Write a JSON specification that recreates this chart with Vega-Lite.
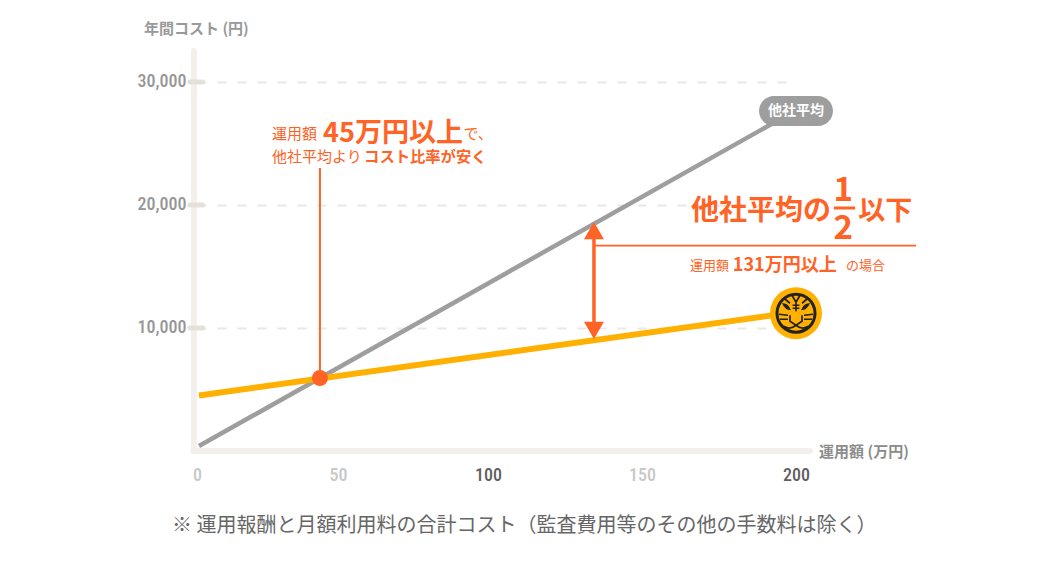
{
"$schema":"https://vega.github.io/schema/vega-lite/v6.json",
"width":600,"height":400,
"autosize":{"type":"none"},
"padding":{"left":197,"top":51,"right":259,"bottom":121},
"background":"white",
"config":{"view":{"stroke":null},"font":"Noto Sans CJK JP"},
"datasets":{
"lines":[
{"s":"他社平均","x":0.7,"y":406},{"s":"他社平均","x":193.2,"y":26748},
{"s":"当社","x":0.7,"y":4512},{"s":"当社","x":200,"y":11301}],
"boldLeft":[
{"t":"年間コスト (円)","x":-18.8,"y":34340,"size":15,"c":"#999999"},
{"t":"運用額 (万円)","x":207.5,"y":-100,"size":15,"c":"#8c8c8c"},
{"t":"45万円以上","x":44.7,"y":25800,"size":27,"c":"#ff6325"},
{"t":"コスト比率が安く","x":58.7,"y":23900,"size":15.3,"c":"#ff6325"},
{"t":"他社平均の","x":165.9,"y":19430,"size":28,"c":"#ff6325"},
{"t":"以下","x":220.2,"y":19430,"size":27,"c":"#ff6325"},
{"t":"131万円以上","x":179.5,"y":15040,"size":18,"c":"#ff6325"}
],
"boldCenter":[
{"t":"他社平均","x":200,"y":27642,"size":14,"c":"#ffffff"},
{"t":"1","x":215.3,"y":21150,"size":33,"c":"#ff6325"},
{"t":"2","x":215.3,"y":18050,"size":33,"c":"#ff6325"}
],
"normalLeft":[
{"t":"※  運用報酬と月額利用料の合計コスト（監査費用等のその他の手数料は除く）","x":-8.9,"y":-6130,"size":20,"c":"#666666"},
{"t":"運用額","x":26.6,"y":25800,"size":15,"c":"#ff6325"},
{"t":"で、","x":91.8,"y":25800,"size":15,"c":"#ff6325"},
{"t":"他社平均より","x":26.6,"y":23900,"size":15,"c":"#ff6325"},
{"t":"運用額","x":165.6,"y":15040,"size":13,"c":"#ff6325"},
{"t":"の場合","x":216.2,"y":15040,"size":13,"c":"#ff6325"}
],
"frame":[
{"x":-1.1,"x2":-1.1,"y":0,"y2":32520},
{"x":-1.4,"x2":204.5,"y":0,"y2":0}
],
"ticks":[{"x":-2.5,"x2":2,"y":10000},{"x":-2.5,"x2":2,"y":20000},{"x":-2.5,"x2":2,"y":30000}]
},
"layer":[
{"data":{"values":[{"x":0,"y":0}]},
"mark":{"type":"point","opacity":0},
"encoding":{
"x":{"field":"x","type":"quantitative","scale":{"domain":[0,50,100,150,200],"range":[0,141,291,445,599]},
"axis":{"title":null,"values":[0,50,100,150,200],"grid":false,"domain":false,"ticks":false,"labelPadding":15,"labelFont":"Roboto Condensed, DejaVu Sans Condensed, Roboto","labelFontWeight":500,"labelFontSize":18,"labelFlush":false,
"labelColor":{"condition":{"test":"datum.value==100||datum.value==200","value":"#5f5f5f"},"value":"#c8c8c8"}}},
"y":{"field":"y","type":"quantitative","scale":{"domain":[0,32520],"nice":false},
"axis":{"title":null,"values":[10000,20000,30000],"labelExpr":"datum.value==10000?'10,000':datum.value==20000?'20,000':'30,000'","grid":true,"gridColor":"#ece9e3","gridWidth":2,"gridDash":[9,11],"domain":false,"ticks":false,"labelPadding":11,"labelFont":"Roboto Condensed, DejaVu Sans Condensed, Roboto","labelFontWeight":500,"labelFontSize":18,"labelColor":"#969696"}}
}},
{"data":{"name":"frame"},"mark":{"type":"rule","color":"#f3f0eb","strokeWidth":6,"strokeCap":"round"},
"encoding":{"x":{"field":"x","type":"quantitative"},"x2":{"field":"x2"},"y":{"field":"y","type":"quantitative"},"y2":{"field":"y2"}}},
{"data":{"name":"ticks"},"mark":{"type":"rule","color":"#e4e1da","strokeWidth":5,"strokeCap":"round"},
"encoding":{"x":{"field":"x","type":"quantitative"},"x2":{"field":"x2"},"y":{"field":"y","type":"quantitative"}}},
{"data":{"name":"lines"},"transform":[{"filter":"datum.s=='他社平均'"}],"mark":{"type":"line","color":"#9e9e9e","strokeWidth":4.5},
"encoding":{"x":{"field":"x","type":"quantitative"},"y":{"field":"y","type":"quantitative"}}},
{"data":{"name":"lines"},"transform":[{"filter":"datum.s=='当社'"}],"mark":{"type":"line","color":"#ffb000","strokeWidth":6},
"encoding":{"x":{"field":"x","type":"quantitative"},"y":{"field":"y","type":"quantitative"}}},
{"data":{"values":[{"x":188,"x2":212,"y":26423,"y2":28862}]},"mark":{"type":"rect","color":"#9e9e9e","cornerRadius":15},
"encoding":{"x":{"field":"x","type":"quantitative"},"x2":{"field":"x2"},"y":{"field":"y","type":"quantitative"},"y2":{"field":"y2"}}},
{"data":{"values":[{"x":43.6,"y":5935,"y2":23008}]},"mark":{"type":"rule","color":"#ff6325","strokeWidth":2},
"encoding":{"x":{"field":"x","type":"quantitative"},"y":{"field":"y","type":"quantitative"},"y2":{"field":"y2"}}},
{"data":{"values":[{"x":43.6,"y":5935}]},"mark":{"type":"point","shape":"circle","filled":true,"size":256,"color":"#ff6325","opacity":1},
"encoding":{"x":{"field":"x","type":"quantitative"},"y":{"field":"y","type":"quantitative"}}},
{"data":{"values":[{"x":134.4,"y":9813,"y2":17911}]},"mark":{"type":"rule","color":"#ff6325","strokeWidth":3.5},
"encoding":{"x":{"field":"x","type":"quantitative"},"y":{"field":"y","type":"quantitative"},"y2":{"field":"y2"}}},
{"data":{"values":[{"x":134.4,"y":17911}]},"mark":{"type":"point","shape":"triangle-up","filled":true,"size":400,"color":"#ff6325","opacity":1},
"encoding":{"x":{"field":"x","type":"quantitative"},"y":{"field":"y","type":"quantitative"}}},
{"data":{"values":[{"x":134.4,"y":9813}]},"mark":{"type":"point","shape":"triangle-down","filled":true,"size":400,"color":"#ff6325","opacity":1},
"encoding":{"x":{"field":"x","type":"quantitative"},"y":{"field":"y","type":"quantitative"}}},
{"data":{"values":[{"x":134.4,"x2":239,"y":16691}]},"mark":{"type":"rule","color":"#ff6325","strokeWidth":1.8},
"encoding":{"x":{"field":"x","type":"quantitative"},"x2":{"field":"x2"},"y":{"field":"y","type":"quantitative"}}},
{"data":{"values":[{"x":212.3,"x2":219.2,"y":19756}]},"mark":{"type":"rule","color":"#ff6325","strokeWidth":3},
"encoding":{"x":{"field":"x","type":"quantitative"},"x2":{"field":"x2"},"y":{"field":"y","type":"quantitative"}}},
{"data":{"values":[{"x":200,"y":11200}]},"mark":{"type":"point","shape":"circle","filled":true,"size":2704,"color":"#ffb000","opacity":1},
"encoding":{"x":{"field":"x","type":"quantitative"},"y":{"field":"y","type":"quantitative"}}},
{"data":{"values":[{"x":200,"y":11200}]},"mark":{"type":"point","shape":"circle","filled":false,"size":1444,"stroke":"#222222","strokeWidth":3,"opacity":1},
"encoding":{"x":{"field":"x","type":"quantitative"},"y":{"field":"y","type":"quantitative"}}},
{"data":{"values":[{"x":200,"y":11200}]},"mark":{"type":"point","shape":"M-.2 -.9 L0 -.55 L.2 -.9 M0 -.55 L0 -.1 M-.17 -.4 L.17 -.4 M-.17 -.25 L.17 -.25 M-.3 .1 L-.3 .4 L0 .6 L.3 .4 L.3 .1 M-.85 .05 L-.4 .1 M-.8 .3 L-.4 .3 M.85 .05 L.4 .1 M.8 .3 L.4 .3 M-.6 .65 Q-.3 .85 0 .6 Q.3 .85 .6 .65 M-.6 -.75 L-.3 -.5 M.6 -.75 L.3 -.5","filled":false,"size":1600,"stroke":"#222222","strokeWidth":1.7,"opacity":1},
"encoding":{"x":{"field":"x","type":"quantitative"},"y":{"field":"y","type":"quantitative"}}},
{"data":{"values":[{"x":200,"y":11200}]},"mark":{"type":"point","shape":"M-.7 -.5 Q-.4 -.55 -.25 -.15 Q-.55 -.15 -.7 -.5Z M.7 -.5 Q.4 -.55 .25 -.15 Q.55 -.15 .7 -.5Z","filled":true,"size":1600,"color":"#222222","opacity":1},
"encoding":{"x":{"field":"x","type":"quantitative"},"y":{"field":"y","type":"quantitative"}}},
{"data":{"name":"boldLeft"},"mark":{"type":"text","baseline":"middle","align":"left","font":"Noto Sans CJK JP","fontWeight":700},
"encoding":{"x":{"field":"x","type":"quantitative"},"y":{"field":"y","type":"quantitative"},"text":{"field":"t"},"size":{"field":"size","type":"quantitative","scale":null},"color":{"field":"c","type":"nominal","scale":null}}},
{"data":{"name":"boldCenter"},"mark":{"type":"text","baseline":"middle","align":"center","font":"Noto Sans CJK JP","fontWeight":700},
"encoding":{"x":{"field":"x","type":"quantitative"},"y":{"field":"y","type":"quantitative"},"text":{"field":"t"},"size":{"field":"size","type":"quantitative","scale":null},"color":{"field":"c","type":"nominal","scale":null}}},
{"data":{"name":"normalLeft"},"mark":{"type":"text","baseline":"middle","align":"left","font":"Noto Sans CJK JP","fontWeight":400},
"encoding":{"x":{"field":"x","type":"quantitative"},"y":{"field":"y","type":"quantitative"},"text":{"field":"t"},"size":{"field":"size","type":"quantitative","scale":null},"color":{"field":"c","type":"nominal","scale":null}}}
]
}
